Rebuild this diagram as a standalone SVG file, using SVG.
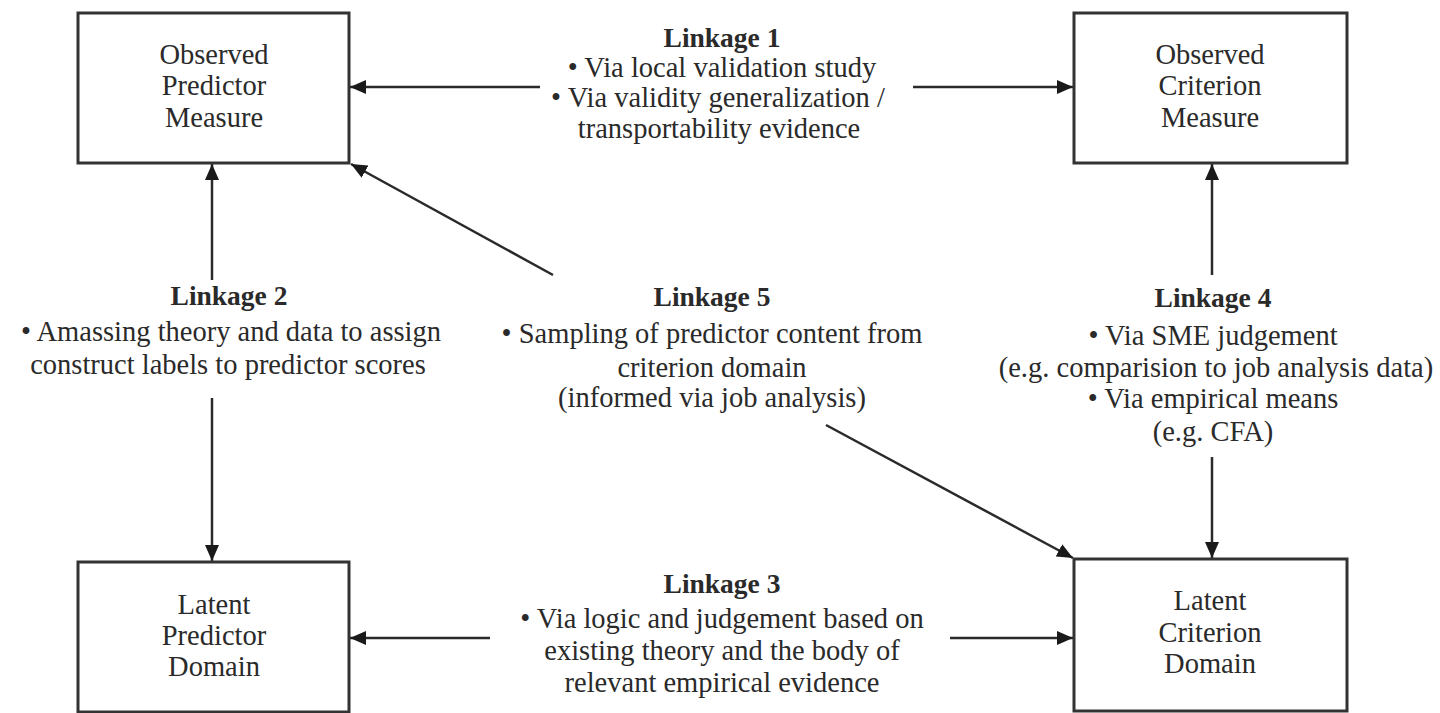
<svg xmlns="http://www.w3.org/2000/svg" width="1440" height="713" viewBox="0 0 1440 713">
<style>
.box{fill:#fff;stroke:#333;stroke-width:3}
.bt{font-family:"Liberation Serif",serif;font-size:28.5px;fill:#2a2a2a;text-anchor:middle}
.lt{font-family:"Liberation Serif",serif;font-size:28.5px;fill:#2a2a2a;text-anchor:middle}
.hd{font-weight:bold;font-size:27.5px}
.cn{stroke:#2a2a2a;stroke-width:2.5;fill:none;marker-end:url(#ah)}
</style>
<defs>
<marker id="ah" markerUnits="userSpaceOnUse" markerWidth="16" markerHeight="14" refX="16" refY="7" orient="auto">
<path d="M0,0 L16,7 L0,14 z" fill="#1a1a1a"/>
</marker>
</defs>
<rect width="1440" height="713" fill="#fff"/>
<g id="connectors">
<line class="cn" x1="540" y1="87" x2="350" y2="87"/>
<line class="cn" x1="913" y1="87" x2="1073" y2="87"/>
<line class="cn" x1="212" y1="280" x2="212" y2="164"/>
<line class="cn" x1="212" y1="398" x2="212" y2="561"/>
<line class="cn" x1="553" y1="275" x2="351" y2="164"/>
<line class="cn" x1="826" y1="425" x2="1073" y2="558"/>
<line class="cn" x1="1212" y1="275" x2="1212" y2="164"/>
<line class="cn" x1="1212" y1="457" x2="1212" y2="558"/>
<line class="cn" x1="490" y1="638" x2="350" y2="638"/>
<line class="cn" x1="950" y1="638" x2="1073" y2="638"/>
</g>
<g id="obs-predictor">
<rect class="box" x="78" y="13" width="271" height="150"/>
<text class="bt" x="214" y="64">Observed</text>
<text class="bt" x="214" y="95">Predictor</text>
<text class="bt" x="214" y="127">Measure</text>
</g>
<g id="obs-criterion">
<rect class="box" x="1074" y="13" width="273" height="150"/>
<text class="bt" x="1210" y="64">Observed</text>
<text class="bt" x="1210" y="95">Criterion</text>
<text class="bt" x="1210" y="127">Measure</text>
</g>
<g id="lat-predictor">
<rect class="box" x="78" y="562" width="271" height="150"/>
<text class="bt" x="214" y="614">Latent</text>
<text class="bt" x="214" y="645">Predictor</text>
<text class="bt" x="214" y="676">Domain</text>
</g>
<g id="lat-criterion">
<rect class="box" x="1074" y="559" width="273" height="152"/>
<text class="bt" x="1210" y="610">Latent</text>
<text class="bt" x="1210" y="642">Criterion</text>
<text class="bt" x="1210" y="673">Domain</text>
</g>
<g id="linkage1">
<text class="lt hd" x="722" y="47">Linkage 1</text>
<text class="lt" x="722" y="77">• Via local validation study</text>
<text class="lt" x="718" y="107">• Via validity generalization /</text>
<text class="lt" x="719" y="138">transportability evidence</text>
</g>
<g id="linkage2">
<text class="lt hd" x="229" y="305">Linkage 2</text>
<text class="lt" x="231" y="341">• Amassing theory and data to assign</text>
<text class="lt" x="228" y="374">construct labels to predictor scores</text>
</g>
<g id="linkage5">
<text class="lt hd" x="712" y="306">Linkage 5</text>
<text class="lt" x="712" y="343">• Sampling of predictor content from</text>
<text class="lt" x="712" y="377">criterion domain</text>
<text class="lt" x="712" y="407">(informed via job analysis)</text>
</g>
<g id="linkage4">
<text class="lt hd" x="1213" y="307">Linkage 4</text>
<text class="lt" x="1213" y="345">• Via SME judgement</text>
<text class="lt" x="1216" y="377">(e.g. comparision to job analysis data)</text>
<text class="lt" x="1213" y="408">• Via empirical means</text>
<text class="lt" x="1213" y="441">(e.g. CFA)</text>
</g>
<g id="linkage3">
<text class="lt hd" x="722" y="593">Linkage 3</text>
<text class="lt" x="722" y="628">• Via logic and judgement based on</text>
<text class="lt" x="722" y="660">existing theory and the body of</text>
<text class="lt" x="722" y="692">relevant empirical evidence</text>
</g>
</svg>
